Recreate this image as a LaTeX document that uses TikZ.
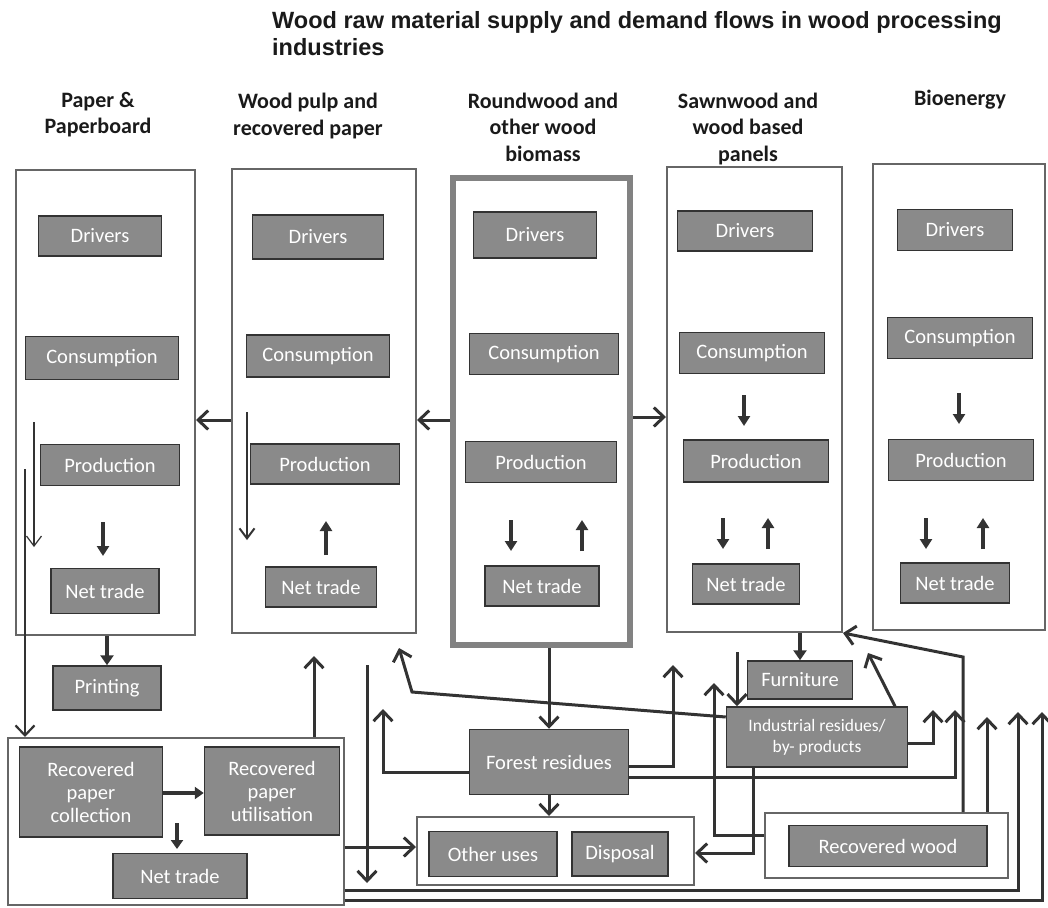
\documentclass[tikz,border=0pt]{standalone}
\usepackage{fontspec}
\setmainfont{Carlito}
\newfontfamily\ttlfont{Liberation Sans}
\usetikzlibrary{arrows.meta,calc}
\definecolor{boxgray}{HTML}{8A8A8A}
\definecolor{boxdark}{HTML}{333333}
\definecolor{outergray}{HTML}{666666}
\definecolor{thickgray}{HTML}{828282}
\definecolor{arrowc}{HTML}{333333}
\definecolor{txtc}{HTML}{1A1A1A}
\newcommand\hdrfont{\fontsize{22}{26.5}\selectfont\bfseries}
\newcommand\lblfont{\fontsize{20.5}{23}\selectfont}
\begin{document}
\begin{tikzpicture}[x=1pt,y=-1pt,
  outerbox/.style={draw=outergray, line width=2pt, fill=white, inner sep=0pt},
  ibox/.style={draw=boxdark, fill=boxgray, line width=1.5pt, text=white, font=\lblfont, inner sep=0pt, align=center},
  hdr/.style={text=txtc, font=\hdrfont, align=center, inner sep=0pt},
  conn/.style={draw=arrowc, line width=3pt, -{Straight Barb[length=10pt,width=19pt]}},
  smallarr/.style={draw=arrowc, line width=3.5pt, -{Triangle[length=10pt,width=12pt]}},
  thinarr/.style={draw=arrowc, line width=1.2pt, -{Straight Barb[length=10pt,width=15pt]}},
]
\useasboundingbox (0,0) rectangle (1048,907);

% title
\node[anchor=north west, align=left, inner sep=0pt, text=txtc,
  font=\ttlfont\fontsize{23.5}{27}\selectfont\bfseries] (title) at (272,11)
  {Wood raw material supply and demand flows in wood processing\\industries};

% headers
\node[hdr] (h1) at (98,114.5) {Paper \&\\Paperboard};
\node[hdr] (h2) at (308,116) {Wood pulp and\\recovered paper};
\node[hdr] (h3) at (543,127) {Roundwood and\\other wood\\biomass};
\node[hdr] (h4) at (748,129) {Sawnwood and\\wood based\\panels};
\node[hdr] (h5) at (960,100) {Bioenergy};

% columns
\node[outerbox, minimum width=179pt, minimum height=465pt] (c1) at (105.5,402.5) {};
\node[outerbox, minimum width=184pt, minimum height=464pt] (c2) at (324,401) {};
\node[outerbox, draw=thickgray, line width=6pt, minimum width=177pt, minimum height=467pt] (c3) at (541.5,411.5) {};
\node[outerbox, minimum width=175pt, minimum height=465pt] (c4) at (754.5,399.5) {};
\node[outerbox, minimum width=172pt, minimum height=466pt] (c5) at (959,397) {};

% bottom outer boxes
\node[outerbox, minimum width=336pt, minimum height=167pt] (rp) at (176,821.5) {};
\node[outerbox, minimum width=277pt, minimum height=68pt] (ou) at (555.5,851) {};
\node[outerbox, minimum width=243pt, minimum height=65pt] (rw) at (886.5,845.5) {};

% column 1
\node[ibox, minimum width=123pt, minimum height=40pt] (c1d) at (100,236) {Drivers};
\node[ibox, minimum width=153pt, minimum height=43pt] (c1c) at (102,358) {Consumption};
\node[ibox, minimum width=139pt, minimum height=41pt] (c1p) at (110,465) {Production};
\node[ibox, minimum width=108pt, minimum height=45pt] (c1n) at (105,591) {Net trade};
% column 2
\node[ibox, minimum width=131pt, minimum height=44pt] (c2d) at (318,237) {Drivers};
\node[ibox, minimum width=143pt, minimum height=42pt] (c2c) at (318,356) {Consumption};
\node[ibox, minimum width=149pt, minimum height=40pt] (c2p) at (325,464) {Production};
\node[ibox, minimum width=111pt, minimum height=40pt] (c2n) at (321,587) {Net trade};
% column 3
\node[ibox, minimum width=123pt, minimum height=46pt] (c3d) at (535,235) {Drivers};
\node[ibox, minimum width=149pt, minimum height=41pt] (c3c) at (544,354) {Consumption};
\node[ibox, minimum width=151pt, minimum height=41pt] (c3p) at (541,462) {Production};
\node[ibox, minimum width=114pt, minimum height=40pt] (c3n) at (542,586) {Net trade};
% column 4
\node[ibox, minimum width=135pt, minimum height=40pt] (c4d) at (745,231) {Drivers};
\node[ibox, minimum width=145pt, minimum height=41pt] (c4c) at (752,353) {Consumption};
\node[ibox, minimum width=145pt, minimum height=42pt] (c4p) at (756,461) {Production};
\node[ibox, minimum width=107pt, minimum height=40pt] (c4n) at (746,584) {Net trade};
% column 5
\node[ibox, minimum width=115pt, minimum height=41pt] (c5d) at (955,230) {Drivers};
\node[ibox, minimum width=145pt, minimum height=41pt] (c5c) at (960,338) {Consumption};
\node[ibox, minimum width=145pt, minimum height=41pt] (c5p) at (961,460) {Production};
\node[ibox, minimum width=109pt, minimum height=40pt] (c5n) at (955,583) {Net trade};

% bottom inner boxes
\node[ibox, minimum width=108pt, minimum height=44pt] (pr) at (107,688) {Printing};
\node[ibox, minimum width=143pt, minimum height=90pt] (rpc) at (91,792) {Recovered\\paper\\collection};
\node[ibox, minimum width=135pt, minimum height=88pt] (rpu) at (272,791) {Recovered\\paper\\utilisation};
\node[ibox, minimum width=134pt, minimum height=45pt] (rpn) at (180,876) {Net trade};
\node[ibox, minimum width=159pt, minimum height=65pt] (fr) at (549,762) {Forest residues};
\node[ibox, minimum width=128pt, minimum height=45pt] (oth) at (493,854) {Other uses};
\node[ibox, minimum width=96pt, minimum height=44pt] (dis) at (620,854) {Disposal};
\node[ibox, minimum width=105pt, minimum height=38pt] (fu) at (800,680) {Furniture};
\node[ibox, minimum width=181pt, minimum height=60pt, font=\fontsize{17.5}{21}\selectfont] (ir) at (817,737) {Industrial residues/\\by- products};
\node[ibox, minimum width=198pt, minimum height=41pt] (rwi) at (888,846) {Recovered wood};

% small arrows inside columns
\draw[smallarr] (103,522) -- (103,556);
\draw[smallarr] (326,555) -- (326,521);
\draw[smallarr] (511,520) -- (511,551);
\draw[smallarr] (582,551) -- (582,520);
\draw[smallarr] (744,395) -- (744,426);
\draw[smallarr] (723,518) -- (723,549);
\draw[smallarr] (768,549) -- (768,518);
\draw[smallarr] (959,393) -- (959,424);
\draw[smallarr] (926,518) -- (926,549);
\draw[smallarr] (983,549) -- (983,518);

% thin arrows
\draw[thinarr] (34,422) -- (34,547);
\draw[thinarr, line width=2pt] (247,412) -- (247,540);
\draw[conn, line width=2.2pt] (25,469) -- (rp.north -| 25,0);

% horizontal arrows between columns
\draw[conn] (c2.west |- 0,420) -- (c1.east |- 0,420);
\draw[conn] (c3.west |- 0,420) -- (c2.east |- 0,420);
\draw[conn] (c3.east |- 0,417) -- (c4.west |- 0,417);

% paper side
\draw[conn, line width=4pt, -{Triangle[length=10pt,width=13pt]}] (c1.south -| pr.north) -- (pr.north);
\draw[conn] (rp.north -| 314,0) -- (314,656);
\draw[conn] (367,665) -- (367,883);
\draw[conn] (rp.east |- 0,847) -- (ou.west |- 0,847);
\draw[conn, line width=3.5pt, -{Triangle[length=9pt,width=12pt]}] (rpc.east |- 0,793) -- (rpu.west |- 0,793);
\draw[conn, line width=3.5pt, -{Triangle[length=9pt,width=12pt]}] (177,823) -- (177,849);

% long bottom lines
\draw[conn] (rp.east |- 0,890) -- (1018,890) -- (1018,712);
\draw[conn] (rp.east |- 0,900) -- (1042,900) -- (1042,712);

% forest residues
\draw[conn] (c3.south -| fr.north) -- (fr.north);
\draw[conn] (fr.south) -- (ou.north -| fr.south);
\draw[conn] (fr.west |- 0,772) -- (383,772) -- (383,709);
\draw[conn] (fr.east |- 0,766) -- (673,766) -- (673,665);
\draw[conn] (fr.east |- 0,777) -- (955,777) -- (955,710);

% industrial residues
\draw[conn] (ir.west |- 0,717) -- (412,692) -- (399,648);
\draw[conn, line width=4pt, -{Triangle[length=10pt,width=13pt]}] (c4.south -| fu.north) -- (fu.north);
\draw[conn] (737,652) -- (ir.north -| 737,0);
\draw[conn] (ir.north -| 895,0) -- (868,653);
\draw[conn] (ir.east |- 0,743) -- (933,743) -- (933,710);
\draw[conn] (ir.south -| 753,0) -- (753,853) -- (ou.east |- 0,853);

% recovered wood
\draw[conn] (rw.west |- 0,835) -- (714,835) -- (714,683);
\draw[conn] (rw.north -| 963,0) -- (963,657) -- (c4.south east);
\draw[conn] (rw.north -| 987,0) -- (987,717);
\end{tikzpicture}
\end{document}
